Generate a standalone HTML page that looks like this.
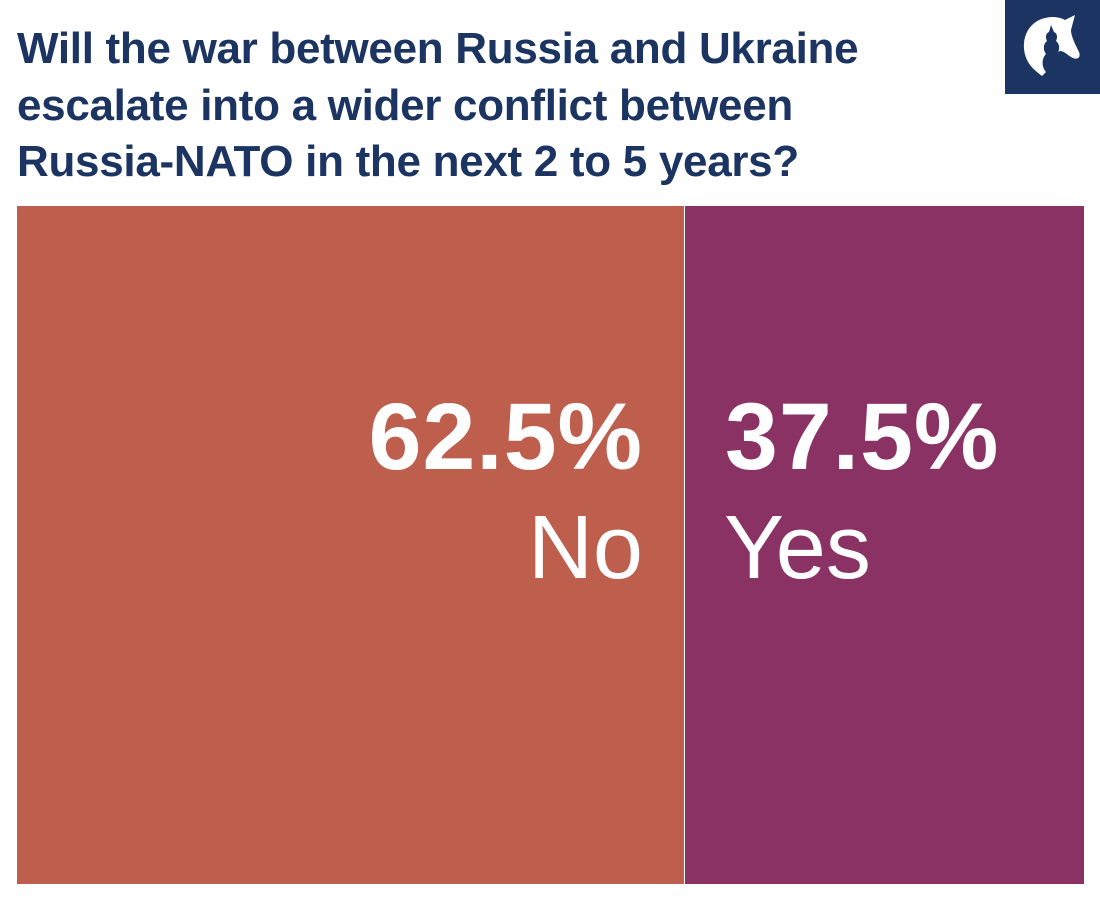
<!DOCTYPE html>
<html><head><style>
body{margin:0;width:1100px;height:900px;background:#fff;position:relative;overflow:hidden;font-family:"Liberation Sans",sans-serif}
.t{position:absolute;left:17px;top:21px;font-size:44px;font-weight:bold;color:#1b3461;line-height:56.5px;letter-spacing:-0.3px;margin:0;white-space:nowrap}
.b{position:absolute;top:206px;height:678px}
.p{position:absolute;color:#fff;font-weight:bold;font-size:95px;letter-spacing:1px;line-height:1}
.l{position:absolute;color:#fff;font-size:90px;line-height:1;letter-spacing:0}
</style></head><body>
<div class="t">Will the war between Russia and Ukraine<br>escalate into a wider conflict between<br>Russia-NATO in the next 2 to 5 years?</div>
<div style="position:absolute;left:1005px;top:0;width:95px;height:94px;background:#1b3461">
<svg width="95" height="94" viewBox="0 0 95 94"><path d="M40 18 C22 22 14 42 22 60 C26 68 32 72 37 76 L41 72 C36 66 37 58 41 54 C38 50 38 44 42 41 C40 37 41 33 44 32 L46 25 L49 32 C52 33 53 37 51 41 C55 44 55 50 52 54 C55 46 63 56 68 58 C73 60 76 57 74 52 C70 44 66 36 66 30 L70 15 L60 20 C55 17 47 16 40 18Z" fill="#fff"/></svg>
</div>
<div class="b" style="left:17px;width:667px;background:#be5e4d"></div>
<div class="b" style="left:685px;width:399px;background:#8b3264"></div>
<div class="p" style="right:457px;top:390px">62.5%</div>
<div class="l" style="right:457px;top:503px">No</div>
<div class="p" style="left:725px;top:390px">37.5%</div>
<div class="l" style="left:724px;top:503px">Yes</div>
</body></html>
